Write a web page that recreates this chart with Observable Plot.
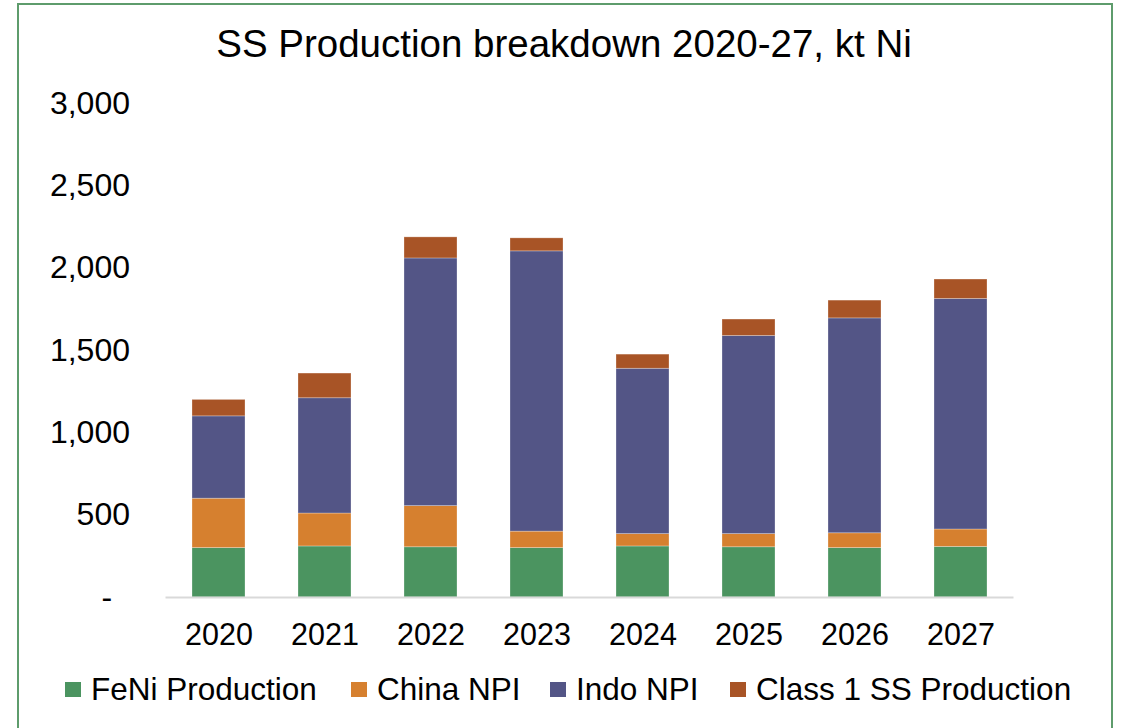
<!DOCTYPE html>
<html>
<head>
<meta charset="utf-8">
<script src="https://cdn.jsdelivr.net/npm/d3@7"></script>
<script src="https://cdn.jsdelivr.net/npm/@observablehq/plot@0.6"></script>
<style>
  html, body { margin: 0; padding: 0; background: #fff; overflow: hidden; }
  body { width: 1122px; height: 728px; position: relative; font-family: "Liberation Sans", Arial, sans-serif; }
  #frame { position: absolute; left: 17px; top: 3px; width: 1096px; height: 800px; border: 2px solid #5e9c6c; box-sizing: border-box; }
  #title { position: absolute; left: 6px; width: 1116px; top: 25px; text-align: center; font-size: 38.5px; line-height: 38.5px; color: #000; white-space: nowrap; }
  #chart { position: absolute; left: 0; top: 0; }
  #legend { position: absolute; left: 0; top: 671px; width: 1122px; height: 36px; font-size: 31.5px; line-height: 32px; color: #000; }
  .item { position: absolute; top: 0; display: flex; align-items: center; white-space: nowrap; }
  .sw { width: 16px; height: 15px; margin-right: 10px; }
</style>
</head>
<body>
<div id="frame"></div>
<div id="chart"></div>
<div id="title">SS Production breakdown 2020-27, kt Ni</div>
<div id="legend"></div>
<script>
const years = ["2020", "2021", "2022", "2023", "2024", "2025", "2026", "2027"];
const seriesNames = ["FeNi Production", "China NPI", "Indo NPI", "Class 1 SS Production"];
const seriesColors = ["#4b9460", "#d6802f", "#535586", "#a85426"];
const feni   = [300, 310, 305, 300, 310, 305, 300, 307];
const china  = [300, 200, 250, 100, 75, 80, 90, 106];
const indo   = [500, 700, 1504, 1702, 1004, 1203, 1305, 1400];
const class1 = [100, 150, 128, 79, 86, 100, 108, 118];
const yTicks = [0, 500, 1000, 1500, 2000, 2500, 3000];
const legendLeft = [65, 351, 550, 730];

const seriesValues = [feni, china, indo, class1];
const rows = [];
years.forEach((yr, i) => {
  seriesNames.forEach((s, j) => rows.push({year: yr, series: s, value: seriesValues[j][i]}));
});

const fmt = d3.format(",");
const plot = Plot.plot({
  width: 1122,
  height: 660,
  marginLeft: 165.5,
  marginRight: 108.5,
  marginTop: 103,
  marginBottom: 63,
  style: {fontFamily: "'Liberation Sans', Arial, sans-serif", background: "transparent", color: "#000"},
  x: {domain: years, paddingInner: 0.5, paddingOuter: 0.25, label: null},
  y: {domain: [0, 3000], label: null},
  color: {domain: seriesNames, range: seriesColors},
  marks: [
    Plot.axisY({ticks: yTicks, tickSize: 0, tickPadding: 36, fontSize: 32, label: null,
      tickFormat: d => d === 0 ? "-\u00A0\u00A0" : fmt(d)}),
    Plot.axisX({tickSize: 0, tickPadding: 26, fontSize: 30.5, label: null}),
    Plot.barY(rows, {x: "year", y: "value", fill: "series", order: seriesNames,
      stroke: "white", strokeWidth: 0.8, strokeOpacity: 0.35}),
    Plot.ruleY([0], {stroke: "#d9d9d9", strokeWidth: 2})
  ]
});
document.getElementById("chart").appendChild(plot);

const legend = document.getElementById("legend");
seriesNames.forEach((s, i) => {
  const it = document.createElement("div");
  it.className = "item";
  it.style.left = legendLeft[i] + "px";
  it.style.height = "36px";
  const sw = document.createElement("div");
  sw.className = "sw";
  sw.style.background = seriesColors[i];
  const tx = document.createElement("span");
  tx.textContent = s;
  it.appendChild(sw); it.appendChild(tx);
  legend.appendChild(it);
});
</script>
</body>
</html>
